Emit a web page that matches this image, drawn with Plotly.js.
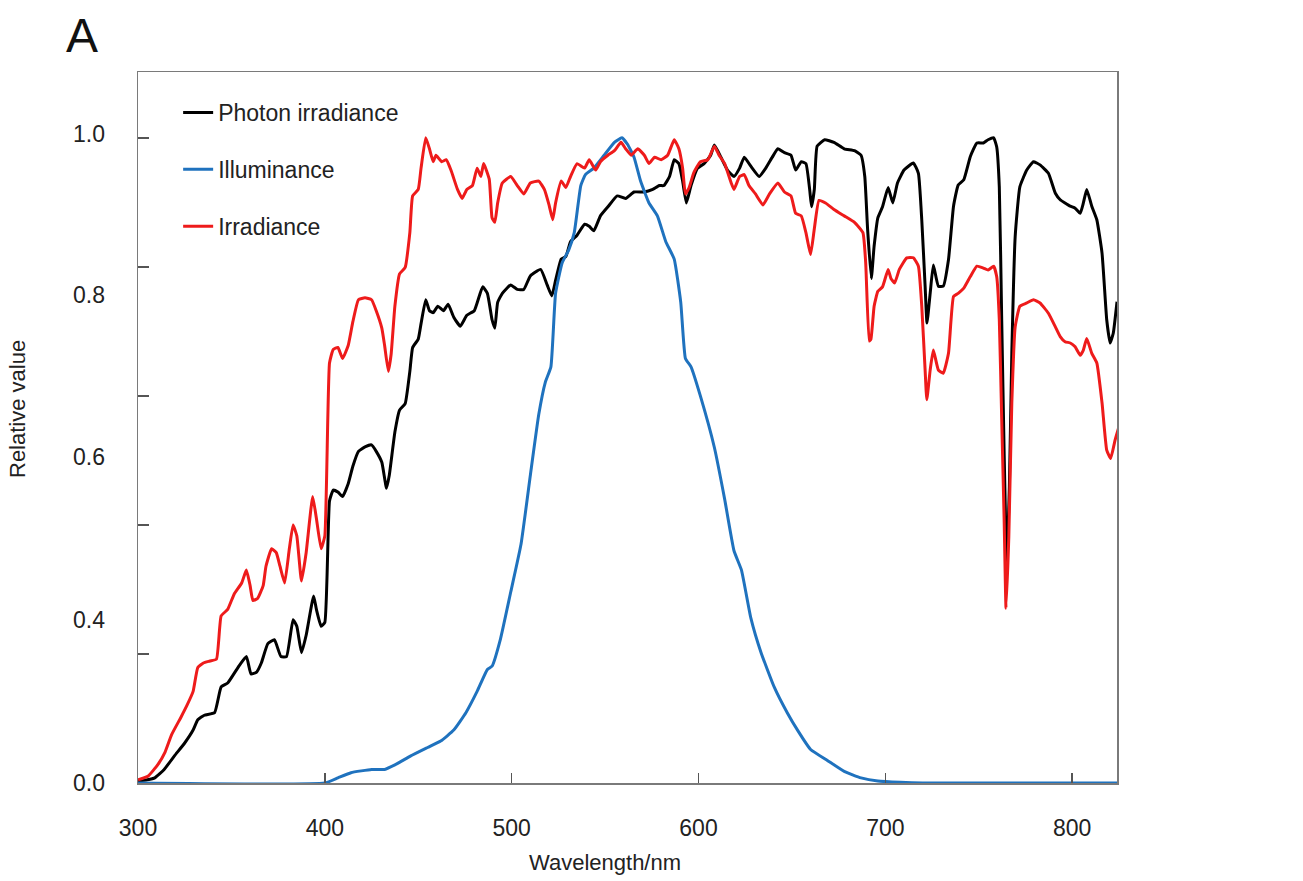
<!DOCTYPE html>
<html>
<head>
<meta charset="utf-8">
<script src="https://cdn.plot.ly/plotly-3.0.1.min.js"></script>
<style>html,body{margin:0;padding:0;background:#fff;}#chart{width:1303px;height:881px;}</style>
</head>
<body>
<div id="chart"></div>
<script>
// Photon irradiance (black)
const photonNm = [300,305,309,314,319.5,325,329.5,332,335.5,341,344.5,348,353.5,358,360.5,363.5,366,369.5,373,376.5,379.5,383,385,387.5,390,394,395.5,398,400,402.5,404.5,407,409.5,412.5,415,418,421.5,425,427.5,430.5,433,434.5,437.5,440,443,445.5,447,450,451.5,454,456,458,460.5,463.5,466,469,472.5,476,480,484.5,487,489.5,491,492.5,495,499.5,503,506.5,510,515.5,519,521.5,523.5,526.5,529,531.5,535,539,541.5,544,547.5,551.5,556.5,561,565.5,571,575.5,579,581.5,584.5,587,589.5,591.5,593.5,596,599.5,603,606.5,608.5,612,615.5,619,622,624.5,628,632.5,636,639.5,642.5,646,649.5,652,655,657.5,659.5,660.5,662,663.5,667.5,672.5,678,683.5,687,689,690.5,692.5,694,696,698.5,701.5,704,706.5,710,715,717.7,719.5,721.3,722.3,724,725.7,728.4,731,733.8,736.5,739,742,745.5,749,752.5,755,758,759.6,761,762.3,763.6,765,766.4,767.7,769.5,772,775.7,779.3,782.8,787.3,791,793.6,796.2,799,801.6,804.3,806,807.8,810.5,813.2,816,818.5,820.3,822,824];
const photonVal = [0.003,0.005,0.008,0.021,0.042,0.062,0.082,0.098,0.105,0.109,0.149,0.155,0.179,0.196,0.169,0.172,0.186,0.216,0.222,0.196,0.196,0.253,0.243,0.202,0.229,0.290,0.269,0.243,0.249,0.437,0.454,0.451,0.444,0.464,0.491,0.514,0.521,0.524,0.514,0.497,0.457,0.477,0.544,0.578,0.588,0.638,0.675,0.688,0.712,0.749,0.732,0.729,0.739,0.732,0.742,0.722,0.708,0.725,0.732,0.769,0.759,0.718,0.705,0.745,0.759,0.772,0.765,0.765,0.786,0.796,0.772,0.755,0.779,0.812,0.816,0.839,0.849,0.866,0.863,0.856,0.879,0.893,0.910,0.906,0.916,0.916,0.920,0.926,0.926,0.940,0.966,0.960,0.933,0.899,0.926,0.953,0.960,0.973,0.989,0.970,0.950,0.940,0.953,0.970,0.956,0.940,0.953,0.970,0.983,0.977,0.973,0.950,0.963,0.960,0.920,0.893,0.920,0.987,0.997,0.993,0.983,0.980,0.973,0.940,0.859,0.782,0.832,0.876,0.893,0.923,0.899,0.930,0.950,0.961,0.945,0.873,0.770,0.713,0.759,0.803,0.770,0.770,0.811,0.894,0.927,0.935,0.971,0.992,0.992,0.997,1.0,0.986,0.924,0.717,0.511,0.340,0.459,0.666,0.847,0.924,0.950,0.963,0.958,0.945,0.914,0.904,0.899,0.894,0.891,0.883,0.899,0.920,0.894,0.873,0.821,0.718,0.682,0.697,0.746];

// Illuminance (blue)
const illumNm = [300,400,407,414,425,432,437.5,446,455,462,469,475.5,481.5,487,489.5,494,499.5,505,510,514.5,518,521,523.5,527,530.5,533.5,537,539.5,544,549.5,555,559,562,565.5,569,573.5,578,582.5,587,590.5,593,596,601,608.5,614,619,623,628,633.5,640.5,647.5,653,660,669,678,687,696,708,720,824];
const illumVal = [0,0,0.008,0.016,0.021,0.021,0.028,0.042,0.055,0.065,0.082,0.109,0.142,0.176,0.181,0.223,0.296,0.370,0.477,0.571,0.621,0.645,0.759,0.806,0.826,0.853,0.926,0.943,0.953,0.973,0.993,1.0,0.990,0.970,0.933,0.899,0.879,0.839,0.812,0.745,0.658,0.645,0.600,0.520,0.440,0.360,0.330,0.256,0.202,0.149,0.109,0.082,0.052,0.035,0.018,0.008,0.003,0.001,0,0];

// Irradiance (red)
const irradNm = [300,305.5,310.5,314.5,318,323,326,329.5,332,335,338.5,342,344.5,348,351.5,355.5,358,360,361.5,364,367,368.5,371.5,374,376,378.5,381,383,385,387.5,390,393.5,395.5,398,400,402.5,404.5,407,409.5,412.5,415,418,421.5,425,427.5,430.5,432,434,435.5,437.5,440,443,445.5,447,450,451.5,454,456,458,459.5,462.5,465,467.5,471,473.5,476,479,481.5,483.5,485,488,489.5,491,492.5,495,499.5,503,506.5,510,514.5,517.5,520,522,523.5,526.5,529,531.5,535,539,541.5,545,547.5,551.5,555,558.5,561,564,567.5,571,573.5,576.5,580,583.5,587,589.5,591.5,593,595,597.5,601,605,608.5,611,614,617.5,619,622,624.5,627,630.5,634.5,638,642.5,646,649.5,652,655,657.5,660,662,664.5,668,672.5,678,683.5,688,689.5,691.4,692.3,694,696,698.5,701.5,703,705,707.5,711.5,715,717.7,719.5,721.3,722.2,724,725.7,728.4,731,733.8,736.5,739,742,745.5,749,752.5,755,758,759.6,761,762.3,763.6,764.6,766.1,767.7,769.5,772,775.7,779.3,782.8,787.3,791,793.6,796.2,799,801.6,804.3,806,807.8,810.5,813.2,816,818.5,820.6,823,824.8];
const irradVal = [0.005,0.011,0.028,0.048,0.075,0.102,0.119,0.142,0.179,0.186,0.189,0.192,0.259,0.269,0.293,0.310,0.330,0.306,0.283,0.286,0.306,0.336,0.363,0.357,0.336,0.310,0.363,0.400,0.383,0.313,0.357,0.444,0.410,0.363,0.383,0.651,0.672,0.675,0.658,0.678,0.715,0.749,0.752,0.749,0.732,0.705,0.678,0.638,0.665,0.739,0.789,0.799,0.853,0.910,0.920,0.953,1.0,0.983,0.963,0.973,0.963,0.966,0.950,0.920,0.906,0.920,0.926,0.953,0.940,0.960,0.936,0.876,0.869,0.899,0.930,0.940,0.926,0.913,0.930,0.933,0.920,0.896,0.873,0.899,0.933,0.923,0.940,0.960,0.953,0.966,0.950,0.963,0.973,0.980,0.993,0.983,0.973,0.983,0.973,0.960,0.970,0.966,0.973,0.997,0.983,0.953,0.913,0.923,0.946,0.963,0.966,0.987,0.973,0.960,0.930,0.920,0.940,0.943,0.926,0.913,0.896,0.913,0.930,0.916,0.910,0.883,0.879,0.853,0.819,0.859,0.903,0.899,0.889,0.879,0.869,0.853,0.806,0.685,0.688,0.739,0.762,0.769,0.796,0.782,0.775,0.796,0.814,0.814,0.801,0.739,0.640,0.594,0.640,0.671,0.640,0.635,0.666,0.754,0.759,0.767,0.785,0.801,0.798,0.795,0.801,0.785,0.718,0.563,0.408,0.271,0.382,0.589,0.707,0.739,0.744,0.749,0.744,0.728,0.707,0.692,0.684,0.682,0.676,0.663,0.671,0.689,0.666,0.651,0.589,0.516,0.503,0.532,0.550];

// Axis ticks and labels
const xTicks = [300,400,500,600,700,800];
const yTickMarks = [0.2,0.4,0.6,0.8,1.0];
const yLabelPos = [0,0.253,0.505,0.757,1.006];
const yLabelText = ['0.0','0.4','0.6','0.8','1.0'];

const FONT = 'Liberation Sans, Arial, sans-serif';
const TXT = '#222222';
const lineOpts = {width: 3, shape: 'spline', smoothing: 0.4};

const traces = [
  {x: photonNm, y: photonVal, name: 'Photon irradiance', legendgroup: 'a', type: 'scatter', mode: 'lines', line: Object.assign({color: '#000000'}, lineOpts)},
  {x: illumNm, y: illumVal, name: 'Illuminance', legendgroup: 'b', type: 'scatter', mode: 'lines', line: Object.assign({color: '#1f72be'}, lineOpts)},
  {x: irradNm, y: irradVal, name: 'Irradiance', legendgroup: 'c', type: 'scatter', mode: 'lines', line: Object.assign({color: '#ee1b1b'}, lineOpts)}
];

const annotations = [
  {text: 'Wavelength/nm', xref: 'paper', yref: 'paper', x: (605 - 138) / 979, y: (783 - 862) / 711, xanchor: 'center', yanchor: 'middle', showarrow: false, font: {size: 22, family: FONT, color: TXT}},
  {text: 'Relative value', xref: 'paper', yref: 'paper', x: (18 - 138) / 979, y: (783 - 409) / 711, xanchor: 'center', yanchor: 'middle', textangle: -90, showarrow: false, font: {size: 22, family: FONT, color: TXT}}
];
yLabelPos.forEach(function (v, i) {
  annotations.push({text: yLabelText[i], xref: 'paper', yref: 'y', x: (107 - 138) / 979, y: v, xanchor: 'right', yanchor: 'middle', showarrow: false, font: {size: 23, family: FONT, color: TXT}});
});

const layout = {
  width: 1303, height: 881,
  margin: {l: 138, r: 186, t: 72, b: 98},
  paper_bgcolor: '#ffffff', plot_bgcolor: '#ffffff',
  font: {family: FONT, color: TXT, size: 22},
  title: {text: 'A', x: 66/1303, xanchor: 'left', xref: 'container', y: 1 - 35/881, yanchor: 'middle', yref: 'container', font: {size: 48, family: FONT, color: '#111'}},
  xaxis: {
    range: [300, 824], tickvals: xTicks, ticks: 'inside', ticklen: 10, tickwidth: 1.5, tickcolor: '#555',
    showline: true, mirror: true, linecolor: '#7a7a7a', linewidth: 1.5, showgrid: false, zeroline: false,
    tickfont: {size: 23, family: FONT, color: TXT}, ticklabelstandoff: 24
  },
  yaxis: {
    range: [0, 1.102], tickvals: yTickMarks, ticks: 'inside', ticklen: 11, tickwidth: 1.5, tickcolor: '#555',
    showticklabels: false, showline: true, mirror: true, linecolor: '#7a7a7a', linewidth: 1.5,
    showgrid: false, zeroline: false
  },
  showlegend: true,
  legend: {
    x: 0.041, xanchor: 'left', y: (783 - 91) / 711, yanchor: 'top',
    bgcolor: 'rgba(0,0,0,0)', borderwidth: 0, tracegroupgap: 24, traceorder: 'grouped',
    font: {size: 23, family: FONT, color: TXT}
  },
  annotations: annotations
};

Plotly.newPlot('chart', traces, layout, {displayModeBar: false, staticPlot: true});
</script>
</body>
</html>
